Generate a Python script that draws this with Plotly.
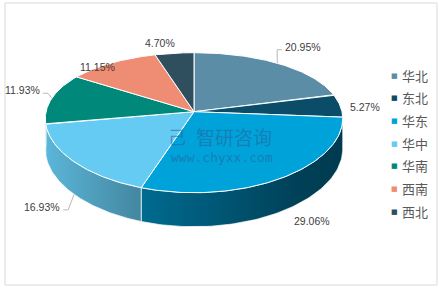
import numpy as np
import plotly.graph_objects as go

# ---------------- data ----------------
regions = ["华北", "东北", "华东", "华中", "华南", "西南", "西北"]
shares = [20.95, 5.27, 29.06, 16.93, 11.93, 11.15, 4.70]

# ---------------- style ----------------
colors = ["#5B8DA6", "#0B4D68", "#00A2DA", "#66CBF2", "#00897B", "#EE8C74", "#2F4F5E"]
W, H = 441, 288
CX, CY = 194.0, 111.7        # pie centre (px)
RX, RY = 148.0, 70.0         # radii of the tilted disc
Q = 11.0                     # perspective bulge of near side
PERSP = 0.10                 # far side narrower
DEPTH, DEPTH_TILT = 30.0, 4.0
# label placement relative to slice anchor: (dx, dy, xanchor, leader)
label_style = [
    (5.7, -16.5, "left", True),
    (8.0, 1.0, "left", False),
    (10.0, 10.0, "left", False),
    (-12.0, 12.5, "right", True),
    (-10.0, -8.0, "right", True),
    (-14.5, 4.0, "center", False),
    (-14.0, -10.0, "center", False),
]
wall_shade = [[0.0, 0.90], [0.31, 0.67], [0.86, 0.40], [1.0, 0.37]]
LEG_X_SYM, LEG_X_TXT, LEG_Y0, LEG_DY = 394, 400, 75, 22.7


def proj(theta, drop=False):
    X, Y = np.cos(theta), np.sin(theta)
    x = CX + RX * X * (1 - PERSP * Y)
    y = CY - RY * Y + Q * Y ** 2
    if drop:
        y = y + (DEPTH - DEPTH_TILT * Y)
    return x, y


def shade(hexc, f):
    h = hexc.lstrip("#")
    r, g, b = (int(h[i:i + 2], 16) for i in (0, 2, 4))
    return "rgb(%d,%d,%d)" % (r * f, g * f, b * f)


total = sum(shares)
cum = np.concatenate([[0], np.cumsum(shares)]) / total
starts = np.pi / 2 - 2 * np.pi * cum[:-1]
ends = np.pi / 2 - 2 * np.pi * cum[1:]

fig = go.Figure()

# side walls (front half only)
for i, (a, b) in enumerate(zip(starts, ends)):
    hi, lo = min(a, 0.0), max(b, -np.pi)
    if lo >= hi:
        continue
    th = np.linspace(hi, lo, 80)
    tx, ty = proj(th)
    bx, by = proj(th[::-1], drop=True)
    fig.add_trace(go.Scatter(
        x=np.concatenate([tx, bx, tx[:1]]), y=np.concatenate([ty, by, ty[:1]]),
        mode="lines", fill="toself",
        fillcolor=shade(colors[i], 0.6),
        fillgradient=dict(type="horizontal", start=CX - RX, stop=CX + RX,
                          colorscale=[[s, shade(colors[i], f)] for s, f in wall_shade]),
        line=dict(color="rgba(255,255,255,0.85)", width=0.8),
        hoverinfo="skip", showlegend=False))

# top faces
for i, (a, b) in enumerate(zip(starts, ends)):
    th = np.linspace(a, b, 120)
    tx, ty = proj(th)
    fig.add_trace(go.Scatter(
        x=np.concatenate([[CX], tx, [CX]]), y=np.concatenate([[CY], ty, [CY]]),
        mode="lines", fill="toself", fillcolor=colors[i],
        line=dict(color="white", width=1),
        name=regions[i], hoverinfo="skip", showlegend=False))

# labels + leader lines
for i, (a, b) in enumerate(zip(starts, ends)):
    mid = (a + b) / 2
    ax, ay = proj(mid, drop=np.sin(mid) < 0)
    dx, dy, xa, leader = label_style[i]
    lx, ly = ax + dx, ay + dy
    fig.add_annotation(x=lx, y=ly, text="%.2f%%" % shares[i], showarrow=False,
                       xanchor=xa, yanchor="middle",
                       font=dict(family="Liberation Sans, Arial", size=10.5, color="#404040"))
    if leader:
        sgn = 1 if xa == "left" else -1
        ex = lx - sgn * 6
        fig.add_trace(go.Scatter(
            x=[ax, ex, lx - sgn * 1], y=[ay, ly + 3, ly + 3], mode="lines",
            line=dict(color="#A6A6A6", width=0.8), hoverinfo="skip", showlegend=False))

# legend (square + label)
for i, r in enumerate(regions):
    yy = LEG_Y0 + i * LEG_DY
    fig.add_annotation(x=LEG_X_SYM, y=yy + 0.5, text="■", showarrow=False,
                       xanchor="center", yanchor="middle",
                       font=dict(family="DejaVu Sans", size=7, color=colors[i]))
    fig.add_annotation(x=LEG_X_TXT, y=yy, text=r, showarrow=False,
                       xanchor="left", yanchor="middle",
                       font=dict(family="Noto Sans CJK SC", size=13, color="#595959"))

# watermark
fig.add_annotation(x=177, y=136, text="己", showarrow=False,
                   font=dict(family="Noto Sans CJK SC", size=18, color="rgba(40,95,150,0.55)"))
fig.add_annotation(x=234, y=136, text="智研咨询", showarrow=False,
                   font=dict(family="Noto Sans CJK SC", size=19, color="rgba(40,95,150,0.55)"))
fig.add_annotation(x=222, y=157, text="www.chyxx.com", showarrow=False,
                   font=dict(family="DejaVu Sans Mono", size=13, color="rgba(40,95,150,0.55)"))

fig.add_shape(type="rect", x0=5, y0=3, x1=437, y1=285,
              line=dict(color="#D9D9D9", width=1), fillcolor="rgba(0,0,0,0)", layer="below")

fig.update_layout(
    width=W, height=H, margin=dict(l=0, r=0, t=0, b=0, autoexpand=False),
    paper_bgcolor="white", plot_bgcolor="white",
    xaxis=dict(range=[0, W], visible=False, fixedrange=True),
    yaxis=dict(range=[H, 0], visible=False, fixedrange=True),
    showlegend=False,
)

fig.write_html("out.html")
